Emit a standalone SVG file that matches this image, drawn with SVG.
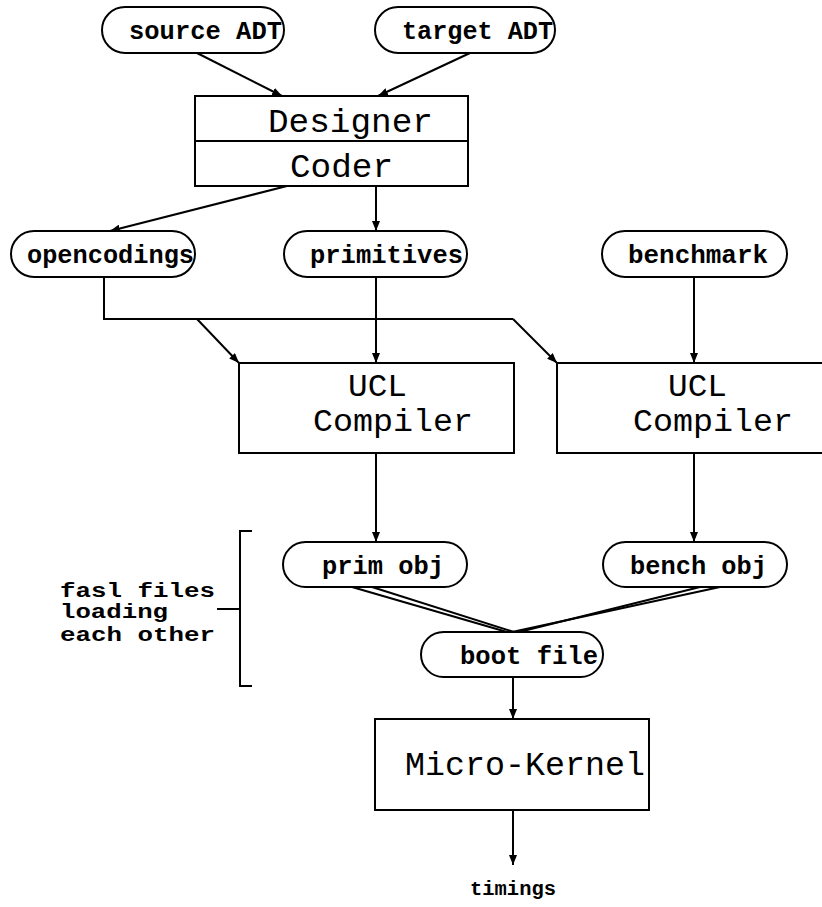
<svg xmlns="http://www.w3.org/2000/svg" width="822" height="907" viewBox="0 0 822 907">
  <style>
    .box { fill: #fff; stroke: #000; stroke-width: 2; }
    .pill { fill: #fff; stroke: #000; stroke-width: 2; }
    .edge { fill: none; stroke: #000; stroke-width: 2; }
    .big { font-family: "Liberation Mono", "DejaVu Sans Mono", monospace; font-size: 33px; fill: #000; }
    .two { font-size: 31px; }
    .small { font-family: "Liberation Mono", "DejaVu Sans Mono", monospace; font-size: 25px; font-weight: bold; fill: #000; }
    .note { font-family: "Liberation Mono", "DejaVu Sans Mono", monospace; font-size: 20px; font-weight: bold; fill: #000; }
  </style>
  <defs>
    <marker id="arrow" viewBox="0 0 10 8" refX="10" refY="4" markerWidth="10" markerHeight="8" markerUnits="userSpaceOnUse" orient="auto">
      <path d="M0,0 L10,4 L0,8 Z" fill="#000"/>
    </marker>
  </defs>
  <rect width="822" height="907" fill="#fff"/>

  <!-- connectors -->
  <g id="connectors">
    <line class="edge" x1="197" y1="53" x2="282" y2="96" marker-end="url(#arrow)"/>
    <line class="edge" x1="470" y1="53" x2="378" y2="96" marker-end="url(#arrow)"/>
    <line class="edge" x1="287" y1="186" x2="110" y2="231" marker-end="url(#arrow)"/>
    <line class="edge" x1="376" y1="186" x2="376" y2="231" marker-end="url(#arrow)"/>
    <path class="edge" d="M104,277 V319 H513"/>
    <line class="edge" x1="197" y1="319" x2="239" y2="363" marker-end="url(#arrow)"/>
    <line class="edge" x1="513" y1="319" x2="557" y2="363" marker-end="url(#arrow)"/>
    <line class="edge" x1="376" y1="277" x2="376" y2="363" marker-end="url(#arrow)"/>
    <line class="edge" x1="694" y1="277" x2="694" y2="363" marker-end="url(#arrow)"/>
    <line class="edge" x1="376" y1="453" x2="376" y2="542" marker-end="url(#arrow)"/>
    <line class="edge" x1="694" y1="453" x2="694" y2="542" marker-end="url(#arrow)"/>
    <!-- double links into the boot file -->
    <line class="edge" x1="352" y1="587" x2="507" y2="632"/>
    <line class="edge" x1="372" y1="587" x2="514" y2="632"/>
    <line class="edge" x1="720" y1="587" x2="512" y2="632"/>
    <line class="edge" x1="700" y1="587" x2="519" y2="632"/>
    <line class="edge" x1="513" y1="677" x2="513" y2="719" marker-end="url(#arrow)"/>
    <line class="edge" x1="513" y1="810" x2="513" y2="865" marker-end="url(#arrow)"/>
  </g>

  <g id="source-adt">
    <rect class="pill" x="102" y="7" width="182" height="46" rx="23"/>
    <text class="small" x="129" y="39" textLength="153" lengthAdjust="spacingAndGlyphs">source ADT</text>
  </g>
  <g id="target-adt">
    <rect class="pill" x="375" y="7" width="180" height="46" rx="23"/>
    <text class="small" x="402" y="39" textLength="151" lengthAdjust="spacingAndGlyphs">target ADT</text>
  </g>

  <g id="designer-coder">
    <rect class="box" x="195" y="96" width="273" height="90"/>
    <line class="edge" x1="195" y1="141" x2="468" y2="141"/>
    <text class="big" x="268" y="132" font-size="34" textLength="165" lengthAdjust="spacingAndGlyphs">Designer</text>
    <text class="big" x="290" y="177" font-size="34" textLength="103" lengthAdjust="spacingAndGlyphs">Coder</text>
  </g>

  <g id="opencodings">
    <rect class="pill" x="11" y="231" width="184" height="46" rx="23"/>
    <text class="small" x="27" y="263" textLength="167" lengthAdjust="spacingAndGlyphs">opencodings</text>
  </g>
  <g id="primitives">
    <rect class="pill" x="284" y="231" width="183" height="46" rx="23"/>
    <text class="small" x="310" y="263" textLength="153" lengthAdjust="spacingAndGlyphs">primitives</text>
  </g>
  <g id="benchmark">
    <rect class="pill" x="602" y="231" width="185" height="46" rx="23"/>
    <text class="small" x="628" y="263" textLength="140" lengthAdjust="spacingAndGlyphs">benchmark</text>
  </g>

  <g id="ucl-compiler-1">
    <rect class="box" x="239" y="363" width="275" height="90"/>
    <text class="big two" x="348" y="396" textLength="59" lengthAdjust="spacingAndGlyphs">UCL</text>
    <text class="big two" x="313" y="431" textLength="160" lengthAdjust="spacingAndGlyphs">Compiler</text>
  </g>
  <g id="ucl-compiler-2">
    <rect class="box" x="557" y="363" width="280" height="90"/>
    <text class="big two" x="668" y="396" textLength="59" lengthAdjust="spacingAndGlyphs">UCL</text>
    <text class="big two" x="633" y="431" textLength="160" lengthAdjust="spacingAndGlyphs">Compiler</text>
  </g>

  <g id="prim-obj">
    <rect class="pill" x="283" y="542" width="184" height="45" rx="22.5"/>
    <text class="small" x="322" y="574" textLength="122" lengthAdjust="spacingAndGlyphs">prim obj</text>
  </g>
  <g id="bench-obj">
    <rect class="pill" x="603" y="542" width="184" height="45" rx="22.5"/>
    <text class="small" x="630" y="574" textLength="137" lengthAdjust="spacingAndGlyphs">bench obj</text>
  </g>
  <g id="boot-file">
    <rect class="pill" x="421" y="632" width="182" height="45" rx="22.5"/>
    <text class="small" x="460" y="664" textLength="138" lengthAdjust="spacingAndGlyphs">boot file</text>
  </g>

  <g id="fasl-bracket">
    <path class="edge" d="M252,531 H240 V686 H252"/>
    <line class="edge" x1="217" y1="609" x2="240" y2="609"/>
    <text class="note" x="60" y="597" textLength="155" lengthAdjust="spacingAndGlyphs">fasl files</text>
    <text class="note" x="60" y="618" textLength="108" lengthAdjust="spacingAndGlyphs">loading</text>
    <text class="note" x="60" y="641" textLength="155" lengthAdjust="spacingAndGlyphs">each other</text>
  </g>

  <g id="micro-kernel">
    <rect class="box" x="375" y="719" width="274" height="91"/>
    <text class="big" x="405" y="775" textLength="240" lengthAdjust="spacingAndGlyphs">Micro-Kernel</text>
  </g>

  <g id="timings">
    <text class="note" x="470" y="895" font-size="21" textLength="86" lengthAdjust="spacingAndGlyphs">timings</text>
  </g>
</svg>
